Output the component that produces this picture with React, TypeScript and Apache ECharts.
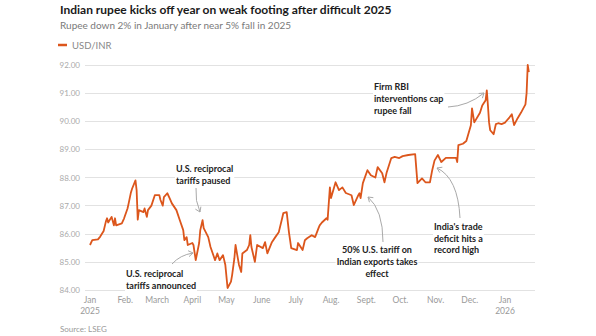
import React, { useEffect, useRef } from 'react';
import * as echarts from 'echarts';

const FONT = 'Lato, "Noto Sans", sans-serif';

const dates = [
  '2025-01-01','2025-01-03','2025-01-08','2025-01-10','2025-01-13','2025-01-15','2025-01-16','2025-01-17','2025-01-20','2025-01-22',
  '2025-01-23','2025-01-24','2025-01-29','2025-01-31','2025-02-03','2025-02-04','2025-02-06','2025-02-07','2025-02-10','2025-02-11',
  '2025-02-12','2025-02-13','2025-02-17','2025-02-18','2025-02-20','2025-02-21','2025-02-24','2025-02-27','2025-03-03','2025-03-04',
  '2025-03-06','2025-03-07','2025-03-10','2025-03-12','2025-03-14','2025-03-18','2025-03-21','2025-03-24','2025-03-25','2025-03-27',
  '2025-03-28','2025-04-01','2025-04-02','2025-04-04','2025-04-07','2025-04-08','2025-04-10','2025-04-11','2025-04-15','2025-04-17',
  '2025-04-21','2025-04-23','2025-04-25','2025-04-28','2025-04-30','2025-05-02','2025-05-05','2025-05-06','2025-05-08','2025-05-09',
  '2025-05-12','2025-05-14','2025-05-15','2025-05-19','2025-05-21','2025-05-22','2025-05-23','2025-05-26','2025-05-28','2025-06-02',
  '2025-06-04','2025-06-06','2025-06-10','2025-06-13','2025-06-16','2025-06-19','2025-06-20','2025-06-23','2025-06-25','2025-06-27',
  '2025-07-02','2025-07-03','2025-07-07','2025-07-09','2025-07-11','2025-07-15','2025-07-18','2025-07-21','2025-07-22','2025-07-24',
  '2025-07-28','2025-07-29','2025-07-31','2025-08-01','2025-08-05','2025-08-08','2025-08-11','2025-08-14','2025-08-19','2025-08-21',
  '2025-08-25','2025-08-26','2025-08-27','2025-08-29','2025-09-02','2025-09-05','2025-09-09','2025-09-11','2025-09-15','2025-09-17',
  '2025-09-19','2025-09-23','2025-09-26','2025-09-30','2025-10-03','2025-10-08','2025-10-14','2025-10-16','2025-10-20','2025-10-23',
  '2025-10-27','2025-10-29','2025-10-31','2025-11-03','2025-11-06','2025-11-10','2025-11-14','2025-11-19','2025-11-20','2025-11-21',
  '2025-11-25','2025-11-28','2025-12-02','2025-12-03','2025-12-05','2025-12-10','2025-12-12','2025-12-15','2025-12-16','2025-12-17',
  '2025-12-18','2025-12-19','2025-12-22','2025-12-24','2025-12-26','2025-12-29','2026-01-01','2026-01-02','2026-01-05','2026-01-07',
  '2026-01-09','2026-01-12','2026-01-15','2026-01-19','2026-01-20','2026-01-21','2026-01-22'
];

const usdInr = [
  85.6, 85.77, 85.8, 85.9, 86.1, 86.44, 86.55, 86.4, 86.6, 86.3,
  86.55, 86.3, 86.37, 86.55, 86.9, 87.08, 87.47, 87.6, 87.9, 87.55,
  86.5, 86.84, 86.77, 86.9, 86.6, 86.84, 87.0, 87.37, 87.37, 87.2,
  87.0, 87.3, 87.44, 87.27, 87.08, 86.84, 86.48, 86.13, 85.77, 85.88,
  85.6, 85.67, 85.6, 85.06, 85.67, 86.13, 86.48, 86.2, 85.88, 85.53,
  85.06, 85.3, 85.06, 85.24, 84.9, 84.07, 84.3, 84.53, 85.13, 85.6,
  84.9, 84.64, 85.3, 85.42, 85.6, 85.95, 85.53, 85.0, 85.6, 85.49,
  85.7, 85.3, 85.7, 85.88, 86.05, 86.55, 86.73, 86.77, 86.05, 85.49,
  85.42, 85.67, 85.42, 85.77, 85.84, 85.95, 85.88, 86.2, 86.3, 86.4,
  86.55, 86.5, 87.65, 87.27, 87.83, 87.55, 87.65, 87.45, 87.37, 87.02,
  87.37, 87.44, 87.27, 87.8, 88.26, 88.08, 88.0, 88.37, 88.15, 87.83,
  88.19, 88.69, 88.73, 88.69, 88.76, 88.8, 88.83, 87.8, 87.97, 87.83,
  87.83, 88.26, 88.6, 88.8, 88.55, 88.7, 88.7, 88.7, 88.55, 89.15,
  89.2, 89.3, 89.86, 90.46, 89.96, 90.3, 90.56, 90.75, 91.1, 90.56,
  89.96, 89.68, 89.54, 89.9, 89.93, 89.9, 89.95, 90.0, 90.14, 90.25,
  89.86, 90.1, 90.3, 90.6, 91.0, 92.0, 91.75
];

const monthTicks = [
  '2025-01-01','2025-02-01','2025-03-01','2025-04-01','2025-05-01','2025-06-01','2025-07-01',
  '2025-08-01','2025-09-01','2025-10-01','2025-11-01','2025-12-01','2026-01-01'
];
const monthLabels = ['Jan\n2025','Feb.','March','April','May','June','July','Aug.','Sept.','Oct.','Nov.','Dec.','Jan\n2026'];

const Y_MIN = 84;
const Y_MAX = 92;
const Y_STEP = 1;

function ts(s: string): number {
  const [y, m, d] = s.split('-').map(Number);
  return new Date(y, m - 1, d).getTime();
}

const DAY = 86400000;
const ARROW_COLOR = '#a9a9a9';

function arrow(sx: number, sy: number, cx: number, cy: number, ex: number, ey: number) {
  const dx = ex - cx;
  const dy = ey - cy;
  const len = Math.sqrt(dx * dx + dy * dy) || 1;
  const ux = dx / len;
  const uy = dy / len;
  const px = -uy;
  const py = ux;
  const bx = ex - ux * 4.5;
  const by = ey - uy * 4.5;
  return [
    {
      type: 'bezierCurve',
      shape: { x1: sx, y1: sy, cpx1: cx, cpy1: cy, x2: ex, y2: ey },
      style: { stroke: ARROW_COLOR, lineWidth: 1, fill: 'none' },
      silent: true,
      z: 5,
    },
    {
      type: 'polyline',
      shape: { points: [[bx + px * 3, by + py * 3], [ex, ey], [bx - px * 3, by - py * 3]] },
      style: { stroke: ARROW_COLOR, lineWidth: 1, fill: 'none' },
      silent: true,
      z: 5,
    },
  ];
}

function note(text: string, x: number, y: number, align: string = 'left', lh: number = 12) {
  return {
    type: 'text',
    x,
    y,
    silent: true,
    z: 4,
    style: {
      text,
      fill: '#222',
      font: `bold 9px ${FONT}`,
      lineHeight: lh,
      align,
      verticalAlign: 'top',
      backgroundColor: '#fff',
      padding: [0, 1],
    },
  };
}

export default function App() {
  const ref = useRef<HTMLDivElement>(null);
  useEffect(() => {
    document.body.style.margin = '0';
    const chart = echarts.init(ref.current!, null, { renderer: 'svg' });
    const tickTs = monthTicks.map(ts);
    const start = ts('2025-01-01');
    chart.setOption({
      animation: false,
      backgroundColor: '#fff',
      textStyle: { fontFamily: FONT },
      grid: { left: 85, right: 61, top: 65, bottom: 46, containLabel: false },
      legend: {
        data: ['USD/INR'],
        left: 58,
        top: 40,
        icon: 'rect',
        itemWidth: 9,
        itemHeight: 2.5,
        itemGap: 4,
        padding: 0,
        textStyle: { color: '#888', fontSize: 9.5, fontFamily: FONT },
      },
      xAxis: {
        type: 'value',
        min: start - 4.4 * DAY,
        max: start + 391.4 * DAY,
        axisLine: { show: false },
        axisTick: { show: false },
        splitLine: { show: false },
        axisLabel: {
          customValues: tickTs,
          formatter: (v: number) => {
            const i = tickTs.findIndex((t) => Math.abs(t - v) < DAY / 2);
            return i >= 0 ? monthLabels[i] : '';
          },
          color: '#9a9a9a',
          fontSize: 8.5,
          lineHeight: 11,
          margin: 4,
          hideOverlap: false,
          fontFamily: FONT,
        },
      },
      yAxis: {
        type: 'value',
        min: Y_MIN,
        max: Y_MAX,
        interval: Y_STEP,
        axisLine: { show: false },
        axisTick: { show: false },
        axisLabel: {
          formatter: (v: number) => v.toFixed(2),
          color: '#aaa',
          fontSize: 8,
          margin: 5,
          fontFamily: FONT,
        },
        splitLine: { lineStyle: { color: '#e2e2e2', width: 1 } },
      },
      series: [
        {
          name: 'USD/INR',
          type: 'line',
          data: dates.map((d, i) => [ts(d), usdInr[i]]),
          showSymbol: false,
          symbol: 'none',
          z: 2,
          itemStyle: { color: '#dc561c' },
          lineStyle: { color: '#dc561c', width: 1.8, join: 'round' },
        },
      ],
      graphic: [
        {
          type: 'text',
          x: 60,
          y: 3,
          silent: true,
          style: { text: 'Indian rupee kicks off year on weak footing after difficult 2025', fill: '#1a1a1a', font: `bold 12px ${FONT}`, verticalAlign: 'top' },
        },
        {
          type: 'text',
          x: 60,
          y: 20,
          silent: true,
          style: { text: 'Rupee down 2% in January after near 5% fall in 2025', fill: '#7a7a7a', font: `10px ${FONT}`, verticalAlign: 'top' },
        },
        {
          type: 'text',
          x: 60,
          y: 325,
          silent: true,
          style: { text: 'Source: LSEG', fill: '#999', font: `8px ${FONT}`, verticalAlign: 'top' },
        },
        note('U.S. reciprocal\ntariffs paused', 175, 162, 'left', 12),
        note('U.S. reciprocal\ntariffs announced', 125, 268, 'left', 11.5),
        note('50% U.S. tariff on\nIndian exports takes\neffect', 377, 243, 'center', 12),
        note("India's trade\ndeficit hits a\nrecord high", 433, 221, 'left', 11.5),
        note('Firm RBI\ninterventions cap\nrupee fall', 373, 80, 'left', 12),
        ...arrow(196, 188, 195, 201, 200, 212),
        ...arrow(172, 264, 180, 255, 193, 253),
        ...arrow(383, 242, 383, 210, 368, 197),
        ...arrow(460, 218, 458, 178, 437, 168),
        ...arrow(448, 107, 468, 106, 484, 93),
      ],
    });
    return () => chart.dispose();
  }, []);
  return <div ref={ref} style={{ width: 596, height: 336 }} />;
}
